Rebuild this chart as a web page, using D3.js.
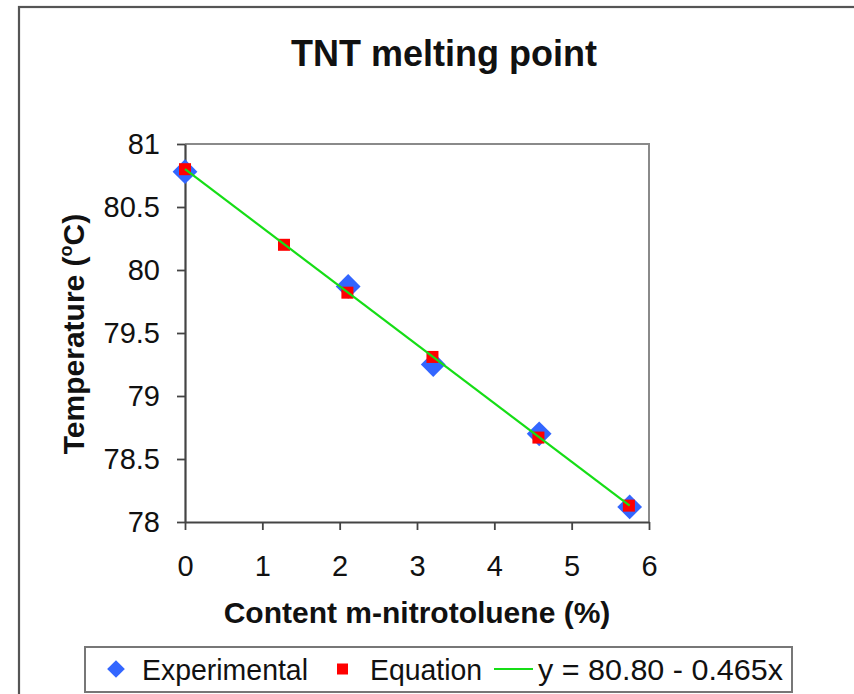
<!DOCTYPE html>
<html>
<head>
<meta charset="utf-8">
<script src="https://cdn.jsdelivr.net/npm/d3@7"></script>
<style>
  html, body { margin: 0; padding: 0; background: #fff; }
  svg { display: block; font-family: "Liberation Sans", Arial, sans-serif; }
</style>
</head>
<body>
<svg id="chart" width="854" height="694"></svg>
<script>
// ---- data ----
const chartTitle = "TNT melting point";
const xTitle = "Content m-nitrotoluene (%)";
const xTicks = [0, 1, 2, 3, 4, 5, 6];
const yTicks = [78, 78.5, 79, 79.5, 80, 80.5, 81];
const expX = [0, 2.11, 3.21, 4.58, 5.75];
const expY = [80.78, 79.87, 79.25, 78.70, 78.12];
const eqX = [0, 1.28, 2.10, 3.20, 4.57, 5.74];
const eqY = [80.80, 80.20, 79.82, 79.31, 78.67, 78.13];
const lineX = [0, 5.75];
const lineY = [80.80, 78.13];
const legendLabels = ["Experimental", "Equation", "y = 80.80 - 0.465x"];

// ---- layout ----
const svg = d3.select("#chart");
const x = d3.scaleLinear().domain([0, 6]).range([185, 649]);
const y = d3.scaleLinear().domain([78, 81]).range([522, 144]);
const blue = "#3366ff", red = "#ff0000", green = "#16dd16";

// outer frame (extends past right/bottom edges)
svg.append("rect").attr("x", 19).attr("y", 7).attr("width", 900).attr("height", 800)
  .attr("fill", "none").attr("stroke", "#555").attr("stroke-width", 2.2);

// title
svg.append("text").attr("x", 444).attr("y", 66).attr("text-anchor", "middle")
  .attr("font-size", 36).attr("font-weight", "bold").attr("fill", "#111").text(chartTitle);

// plot area border (top/right)
svg.append("path")
  .attr("d", `M${x(0)},${y(81)}H${x(6)}V${y(78)}`)
  .attr("fill", "none").attr("stroke", "#8a8a8a").attr("stroke-width", 2);

// axes
const xAxis = d3.axisBottom(x).tickValues(xTicks).tickSize(8).tickSizeOuter(0).tickPadding(25)
  .tickFormat(d3.format("d"));
const yAxis = d3.axisLeft(y).tickValues(yTicks).tickSize(8).tickSizeOuter(0).tickPadding(17)
  .tickFormat(d => String(d));

const gx = svg.append("g").attr("transform", `translate(0,${y(78)})`).call(xAxis);
const gy = svg.append("g").attr("transform", `translate(${x(0)},0)`).call(yAxis);
[gx, gy].forEach(g => {
  g.select(".domain").attr("stroke", "#444").attr("stroke-width", 2.2);
  g.selectAll(".tick line").attr("stroke", "#444").attr("stroke-width", 1.8);
  g.selectAll(".tick text").attr("font-size", 29).attr("fill", "#111")
    .attr("font-family", "'Liberation Sans', Arial, sans-serif");
});

// axis titles
svg.append("text").attr("x", 417).attr("y", 623).attr("text-anchor", "middle")
  .attr("font-size", 30).attr("font-weight", "bold").attr("fill", "#111").text(xTitle);

const yt = svg.append("text")
  .attr("transform", `translate(84,334) rotate(-90)`)
  .attr("text-anchor", "middle").attr("font-size", 30).attr("font-weight", "bold").attr("fill", "#111");
yt.append("tspan").text("Temperature (");
yt.append("tspan").attr("font-size", 18).attr("dy", -12).text("o");
yt.append("tspan").attr("dy", 12).text("C)");

// marks
const diamond = d3.symbol().type(d3.symbolDiamond2).size(2 * 14 * 14);
svg.append("g").selectAll("path").data(expX.map((v, i) => [v, expY[i]])).join("path")
  .attr("d", diamond).attr("transform", d => `translate(${x(d[0])},${y(d[1])})`)
  .attr("fill", blue);

const sq = 12;
svg.append("g").selectAll("rect").data(eqX.map((v, i) => [v, eqY[i]])).join("rect")
  .attr("x", d => x(d[0]) - sq / 2).attr("y", d => y(d[1]) - sq / 2)
  .attr("width", sq).attr("height", sq).attr("fill", red);

svg.append("path").datum(lineX.map((v, i) => [v, lineY[i]]))
  .attr("d", d3.line().x(d => x(d[0])).y(d => y(d[1])))
  .attr("fill", "none").attr("stroke", green).attr("stroke-width", 2.2);

// legend
const lg = svg.append("g");
lg.append("rect").attr("x", 85).attr("y", 647).attr("width", 707).attr("height", 45)
  .attr("fill", "#fff").attr("stroke", "#777").attr("stroke-width", 2);
const ly = 669;
lg.append("path").attr("d", d3.symbol().type(d3.symbolDiamond2).size(2 * 10 * 10))
  .attr("transform", `translate(116,${ly})`).attr("fill", blue);
lg.append("rect").attr("x", 337).attr("y", ly - 5.5).attr("width", 11).attr("height", 11).attr("fill", red);
lg.append("line").attr("x1", 494).attr("x2", 533).attr("y1", ly).attr("y2", ly)
  .attr("stroke", green).attr("stroke-width", 2.2);
const lxs = [142, 370, 538];
const lws = [166, 112, 245];
lg.selectAll("text").data(legendLabels).join("text")
  .attr("x", (d, i) => lxs[i]).attr("y", ly + 11).attr("font-size", 29).attr("fill", "#111")
  .attr("textLength", (d, i) => lws[i]).attr("lengthAdjust", "spacingAndGlyphs")
  .text(d => d);
</script>
</body>
</html>
